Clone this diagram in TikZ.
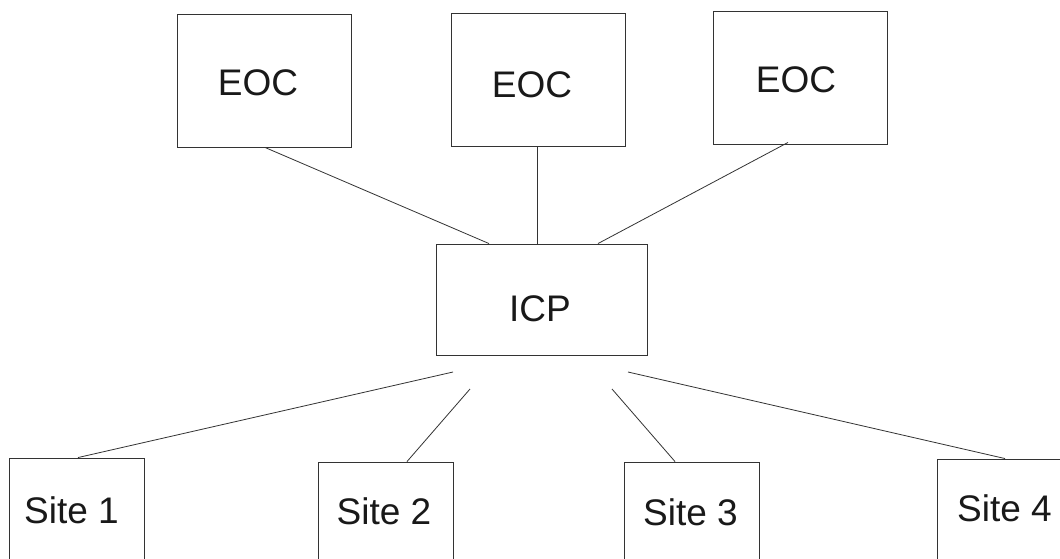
\documentclass[tikz,border=0pt]{standalone}
\usepackage{fontspec}
\setmainfont{Liberation Sans}
\begin{document}
\begin{tikzpicture}[x=1pt,y=-1pt,
  box/.style={draw=black!80,line width=0.9pt,inner sep=0pt,font=\fontsize{37}{40}\selectfont,text=black!90},
  eocbox/.style={box,minimum width=174pt,minimum height=133pt},
  sitebox/.style={box,minimum width=135pt},
  link/.style={draw=black!80,line width=0.8pt}]
\clip (0,0) rectangle (1060,558);
\fill[white] (0,0) rectangle (1060,558);
% upper boxes
\node[eocbox,text height=30pt] (eoc1) at (264,80.5) {\hspace*{-12pt}EOC};
\node[eocbox,text height=37pt] (eoc2) at (538,79.5) {\hspace*{-12pt}EOC};
\node[eocbox,text height=31pt] (eoc3) at (800,77.5) {\hspace*{-8pt}EOC};
% central box
\node[box,minimum width=211pt,minimum height=111pt,text height=45pt] (icp) at (541.5,299.5) {\hspace*{-3pt}ICP};
% sites (cut off by the lower edge)
\node[sitebox,minimum height=112pt,text depth=8pt] (s1) at (76.5,514) {\hspace*{-10pt}Site 1};
\node[sitebox,minimum height=108pt,text depth=10pt] (s2) at (386,516) {\hspace*{-4pt}Site 2};
\node[sitebox,minimum height=108pt,text depth=8pt] (s3) at (691.5,516) {\hspace*{-2pt}Site 3};
\node[sitebox,minimum height=111pt,text depth=13pt] (s4) at (1004.5,514.5) {Site 4};
% free ends below ICP
\coordinate (i1) at (453,372);
\coordinate (i2) at (470,389);
\coordinate (i3) at (612,389);
\coordinate (i4) at (628,372);
% connectors
\draw[link] ([xshift=1pt]eoc1.south) -- ([xshift=-52.5pt]icp.north);
\draw[link] ([xshift=-1pt]eoc2.south) -- ([xshift=-4.5pt]icp.north);
\draw[link] ([xshift=-12pt,yshift=2pt]eoc3.south) -- ([xshift=56.5pt]icp.north);
\draw[link] (i1) -- ([xshift=1.5pt]s1.north);
\draw[link] (i2) -- ([xshift=21pt]s2.north);
\draw[link] (i3) -- ([xshift=-16.5pt]s3.north);
\draw[link] (i4) -- ([xshift=0.5pt]s4.north);
\end{tikzpicture}
\end{document}
